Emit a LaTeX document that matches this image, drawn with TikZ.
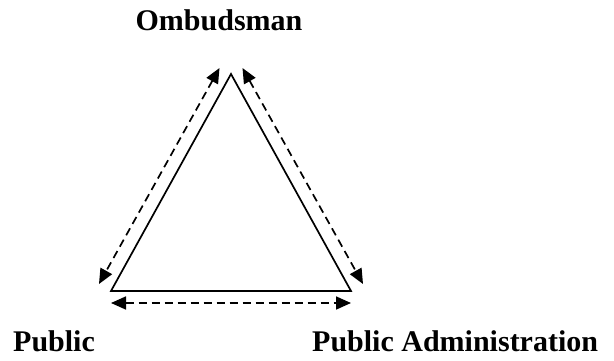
\documentclass[tikz,border=0pt]{standalone}
\usepackage{fontspec}
\setmainfont{Liberation Serif}
\usetikzlibrary{arrows.meta}
\begin{document}
\begin{tikzpicture}[x=1pt, y=-1pt,
    actor/.style={font=\bfseries\fontsize{30}{36}\selectfont, inner sep=0pt, text depth=0pt},
    side/.style={line width=1.7pt, line join=miter},
    link/.style={{Triangle[length=15pt,width=13pt]}-{Triangle[length=15pt,width=13pt]}, line width=1.7pt, dash pattern=on 8pt off 5pt}
  ]
  \useasboundingbox (0,0) rectangle (614,360);

  % corners of the triangle
  \coordinate (omb) at (231,74);
  \coordinate (pub) at (111,291);
  \coordinate (adm) at (351,291);

  \node[actor, anchor=base] (tomb) at (219,30) {Ombudsman};
  \node[actor, anchor=base west] (tpub) at (13,351) {Public};
  \node[actor, anchor=base west] (tadm) at (312,351) {Public Administration};

  \draw[side] (omb) -- (pub) -- (adm) -- cycle;

  % the two-way relations, drawn outside each side
  \coordinate (ombL) at (219.5,68);
  \coordinate (pubL) at (99,284);
  \coordinate (ombR) at (242.5,68);
  \coordinate (admR) at (363,284);
  \coordinate (pubB) at (111,303);
  \coordinate (admB) at (351,303);

  \draw[link] (ombL) -- (pubL);
  \draw[link] (ombR) -- (admR);
  \draw[link] (pubB) -- (admB);
\end{tikzpicture}
\end{document}
